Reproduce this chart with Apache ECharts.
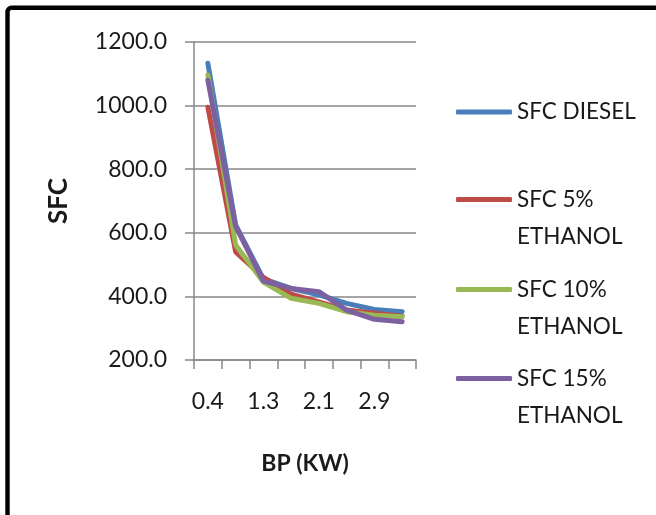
<!DOCTYPE html>
<html>
<head>
<meta charset="utf-8">
<script src="https://cdn.jsdelivr.net/npm/echarts@6/dist/echarts.min.js"></script>
<style>html,body{margin:0;padding:0;background:#fff;}#c{width:656px;height:515px;}</style>
</head>
<body>
<div id="c"></div>
<script>
const categories = ['0.4', '0.8', '1.3', '1.7', '2.1', '2.5', '2.9', '3.3'];
const sfcDiesel = [1133, 625, 455, 425, 405, 378, 359, 352];
const sfc5 = [995, 540, 460, 407, 383, 357, 347, 338];
const sfc10 = [1096, 562, 445, 394, 378, 352, 341, 336];
const sfc15 = [1080, 620, 448, 425, 415, 357, 328, 320];
const seriesNames = ['SFC DIESEL', 'SFC 5%\nETHANOL', 'SFC 10%\nETHANOL', 'SFC 15%\nETHANOL'];
const colors = ['#4A7EBB', '#BE4B48', '#98B954', '#7D60A0'];
const yTicks = [200, 400, 600, 800, 1000, 1200];

const FONT = 'Lato, "Open Sans", sans-serif';
const chart = echarts.init(document.getElementById('c'));
const allData = [sfcDiesel, sfc5, sfc10, sfc15];
const legendTops = [93.5, 144, 234, 323];

const legends = seriesNames.map((n, i) => ({
  orient: 'vertical',
  left: 456,
  top: legendTops[i],
  padding: 0,
  icon: 'roundRect',
  itemWidth: 56,
  itemHeight: 5,
  itemGap: 5,
  formatter: name => (name.indexOf('\n') >= 0 ? ' \n' + name : name),
  textStyle: { fontFamily: FONT, fontSize: 22.5, color: '#1a1a1a', lineHeight: 37 },
  data: [n]
}));

chart.setOption({
  animation: false,
  backgroundColor: '#fff',
  color: colors,
  graphic: [{
    type: 'rect',
    shape: { x: 7.5, y: 7.8, width: 720, height: 620, r: 4 },
    style: { fill: 'none', stroke: '#000', lineWidth: 4.4 },
    silent: true
  }],
  legend: legends,
  grid: { left: 194, right: 240, top: 42, bottom: 155, containLabel: false },
  xAxis: {
    type: 'category',
    data: categories,
    boundaryGap: true,
    name: 'BP (KW)',
    nameLocation: 'middle',
    nameGap: 92,
    nameTextStyle: { fontFamily: FONT, fontSize: 23, fontWeight: 'bold', color: '#1a1a1a' },
    axisLine: { lineStyle: { color: '#888', width: 1.5 } },
    axisTick: { show: true, interval: 0, length: 9, alignWithLabel: false, lineStyle: { color: '#888', width: 1.5 } },
    axisLabel: { interval: 1, margin: 30, fontFamily: FONT, fontSize: 23, color: '#1a1a1a' },
    splitLine: { show: false }
  },
  yAxis: {
    type: 'value',
    min: yTicks[0],
    max: yTicks[yTicks.length - 1],
    interval: 200,
    name: 'SFC',
    nameLocation: 'middle',
    nameGap: 122,
    nameTextStyle: { fontFamily: FONT, fontSize: 26, fontWeight: 'bold', color: '#1a1a1a' },
    axisLine: { show: true, lineStyle: { color: '#888', width: 1.5 } },
    axisTick: { show: true, length: 9, lineStyle: { color: '#888', width: 1.5 } },
    axisLabel: { margin: 27, fontFamily: FONT, fontSize: 23, color: '#1a1a1a', formatter: v => v.toFixed(1) },
    splitLine: { show: true, lineStyle: { color: '#888', width: 1.5 } }
  },
  series: seriesNames.map((n, i) => ({
    name: n,
    type: 'line',
    data: allData[i],
    symbol: 'none',
    lineStyle: { width: 5, cap: 'round', join: 'round', color: colors[i] },
    itemStyle: { color: colors[i] }
  }))
});
</script>
</body>
</html>
